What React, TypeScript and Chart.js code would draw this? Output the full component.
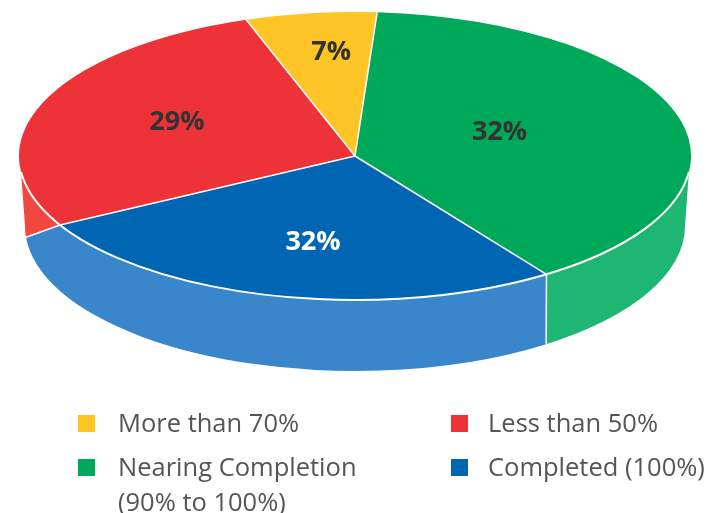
import React, { useEffect, useRef } from "react";
import { Chart, registerables } from "chart.js";

Chart.register(...registerables);

// Share of the drawn circle taken by each slice
const categories = ["More than 70%", "Nearing Completion\n(90% to 100%)", "Completed (100%)", "Less than 50%"];
const drawnShares = [6.3, 39.3, 26.7, 27.7];
// The percentages printed on the slices
const printedLabels = ["7%", "32%", "32%", "29%"];
const topColors = ["#FFC425", "#00A859", "#0066B3", "#EE3338"];
const wallColors = ["#FFD050", "#1FB573", "#3A86CB", "#F0483E"];
const labelColors = ["#333333", "#333333", "#FFFFFF", "#333333"];
const labelFractions = [[-0.071, -0.722], [0.43, -0.166], [-0.125, 0.597], [-0.53, -0.236]];

const FONT = '"Open Sans", sans-serif';
const RIM = { x: 355, y: 156, rx: 336, ry: 144 };
const BASE = { x: 355, y: 226, rx: 330, ry: 145 };
const rad = (d: number) => (d * Math.PI) / 180;
const WALL_START = rad(6.4);
const WALL_END = rad(173.6);
// Rim angle -> base angle, for the slightly skewed side wall
const WALL_MAP = [[6.4, 0], [55.1, 54.4], [151.4, 175.6], [173.6, 180]].map((p) => [rad(p[0]), rad(p[1])]);

function baseAngle(a: number) {
  for (let i = 0; i < WALL_MAP.length - 1; i++) {
    const [a0, b0] = WALL_MAP[i];
    const [a1, b1] = WALL_MAP[i + 1];
    if (a <= a1 + 1e-6) return b0 + ((a - a0) / (a1 - a0)) * (b1 - b0);
  }
  return WALL_MAP[WALL_MAP.length - 1][1];
}

function wallRange(start: number, end: number) {
  for (const k of [-2, -1, 0, 1]) {
    const s = Math.max(start + k * 2 * Math.PI, WALL_START);
    const e = Math.min(end + k * 2 * Math.PI, WALL_END);
    if (e > s) return [s, e];
  }
  return null;
}

const pie3d = {
  id: "pie3d",
  beforeDatasetsDraw(chart: any) {
    const ctx = chart.ctx;
    const arcs = chart.getDatasetMeta(0).data;
    arcs.forEach((arc: any, i: number) => {
      const r = wallRange(arc.startAngle, arc.endAngle);
      if (!r) return;
      ctx.beginPath();
      ctx.ellipse(RIM.x, RIM.y, RIM.rx, RIM.ry, 0, r[0], r[1]);
      ctx.ellipse(BASE.x, BASE.y, BASE.rx, BASE.ry, 0, baseAngle(r[1]), baseAngle(r[0]), true);
      ctx.closePath();
      ctx.fillStyle = wallColors[i];
      ctx.fill();
    });
    const first = arcs[0];
    const s = first.outerRadius;
    ctx.save();
    ctx.translate(RIM.x, RIM.y);
    ctx.scale(RIM.rx / s, RIM.ry / s);
    ctx.translate(-first.x, -first.y);
  },
  afterDatasetsDraw(chart: any) {
    const ctx = chart.ctx;
    ctx.restore();
    const arcs = chart.getDatasetMeta(0).data;
    ctx.strokeStyle = "#FFFFFF";
    ctx.lineCap = "butt";
    // radial seams on the top face
    ctx.lineWidth = 1.5;
    arcs.forEach((arc: any) => {
      ctx.beginPath();
      ctx.moveTo(RIM.x, RIM.y);
      ctx.lineTo(RIM.x + RIM.rx * Math.cos(arc.startAngle), RIM.y + RIM.ry * Math.sin(arc.startAngle));
      ctx.stroke();
    });
    // vertical seams on the wall
    arcs.forEach((arc: any) => {
      const r = wallRange(arc.startAngle, arc.endAngle);
      if (!r || r[0] <= WALL_START) return;
      const b = baseAngle(r[0]);
      ctx.beginPath();
      ctx.moveTo(RIM.x + RIM.rx * Math.cos(r[0]), RIM.y + RIM.ry * Math.sin(r[0]));
      ctx.lineTo(BASE.x + BASE.rx * Math.cos(b), BASE.y + BASE.ry * Math.sin(b));
      ctx.stroke();
    });
    // front rim
    ctx.lineWidth = 2;
    ctx.beginPath();
    ctx.ellipse(RIM.x, RIM.y, RIM.rx, RIM.ry, 0, WALL_START, WALL_END);
    ctx.stroke();
    // printed percentages
    ctx.font = `bold 27px ${FONT}`;
    ctx.textAlign = "center";
    ctx.textBaseline = "middle";
    printedLabels.forEach((text, i) => {
      ctx.fillStyle = labelColors[i];
      ctx.fillText(text, RIM.x + labelFractions[i][0] * RIM.rx, RIM.y + labelFractions[i][1] * RIM.ry);
    });
  },
};

const legendOrder = [0, 3, 1, 2];
const legendColumns = [78, 451];
const legendRows = [405, 449];

export default function App() {
  const ref = useRef<HTMLCanvasElement>(null);
  useEffect(() => {
    const chart = new Chart(ref.current as HTMLCanvasElement, {
      type: "pie",
      data: {
        labels: categories,
        datasets: [{ data: drawnShares, backgroundColor: topColors, borderWidth: 0, clip: false } as any],
      },
      options: {
        responsive: false,
        animation: false,
        events: [],
        rotation: -18.9,
        plugins: { legend: { display: false }, tooltip: { enabled: false } },
      },
      plugins: [pie3d],
    });
    return () => chart.destroy();
  }, []);

  return (
    <div style={{ position: "absolute", left: 0, top: 0, width: 706, height: 513, overflow: "hidden", background: "#fff" }}>
      <canvas ref={ref} width={706} height={513} style={{ position: "absolute", left: 0, top: 0 }} />
      {legendOrder.map((idx, n) => {
        const left = legendColumns[n % 2];
        const top = legendRows[Math.floor(n / 2)];
        return (
          <React.Fragment key={idx}>
            <div style={{ position: "absolute", left, top: top + 10, width: 17, height: 17, background: topColors[idx] }} />
            <div
              style={{
                position: "absolute",
                left: left + (n % 2 ? 37 : 40),
                top,
                fontFamily: FONT,
                fontSize: 25.5,
                lineHeight: "35px",
                color: "#555555",
                whiteSpace: "pre",
              }}
            >
              {categories[idx]}
            </div>
          </React.Fragment>
        );
      })}
    </div>
  );
}
